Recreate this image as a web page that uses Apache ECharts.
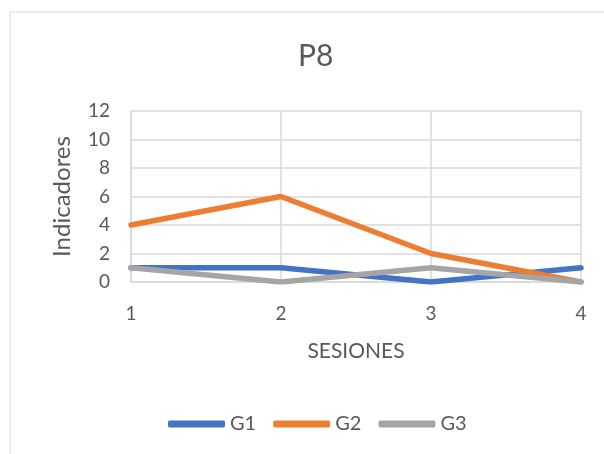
<!DOCTYPE html>
<html>
<head>
<meta charset="utf-8">
<script src="https://cdn.jsdelivr.net/npm/echarts@6/dist/echarts.min.js"></script>
<style>
  html, body { margin: 0; padding: 0; background: #fff; }
  #chart { width: 604px; height: 454px; }
</style>
</head>
<body>
<div id="chart"></div>
<script>
// Sessions on the x axis and indicator counts per group
const sessions = ['1', '2', '3', '4'];
const g1 = [1, 1, 0, 1];
const g2 = [4, 6, 2, 0];
const g3 = [1, 0, 1, 0];
const seriesNames = ['G1', 'G2', 'G3'];
const colors = ['#4472C4', '#ED7D31', '#A5A5A5'];

const font = 'Lato, "Liberation Sans", sans-serif';
const textColor = '#595959';
const gridColor = '#d9d9d9';

const chart = echarts.init(document.getElementById('chart'));

const makeSeries = (name, data, color) => ({
  name: name,
  type: 'line',
  data: data,
  symbol: 'none',
  lineStyle: { width: 5.5, color: color, cap: 'round', join: 'round' },
  itemStyle: { color: color }
});

chart.setOption({
  animation: false,
  backgroundColor: '#ffffff',
  graphic: [{
    type: 'rect',
    shape: { x: 10, y: 12, width: 640, height: 500 },
    style: { fill: 'none', stroke: gridColor, lineWidth: 1 },
    silent: true,
    z: -1
  }],
  title: {
    text: 'P8',
    left: 293,
    top: 36,
    textStyle: { fontFamily: font, fontSize: 30, fontWeight: 'normal', color: textColor }
  },
  grid: { left: 131, right: 23, top: 111, bottom: 172 },
  legend: {
    data: seriesNames,
    top: 409,
    left: 163,
    itemWidth: 57,
    itemHeight: 7,
    itemGap: 17,
    icon: 'roundRect',
    textStyle: { fontFamily: font, fontSize: 20, color: textColor }
  },
  xAxis: {
    type: 'category',
    data: sessions,
    boundaryGap: false,
    name: 'SESIONES',
    nameLocation: 'middle',
    nameGap: 59,
    nameTextStyle: { fontFamily: font, fontSize: 21, color: textColor },
    axisLine: { show: true, lineStyle: { color: gridColor, width: 1.5 } },
    axisTick: { show: false },
    axisLabel: { margin: 22, fontFamily: font, fontSize: 19, color: textColor },
    splitLine: { show: true, lineStyle: { color: gridColor, width: 1.5 } }
  },
  yAxis: {
    type: 'value',
    min: 0,
    max: 12,
    interval: 2,
    name: 'Indicadores',
    nameLocation: 'middle',
    nameGap: 57,
    nameRotate: 90,
    nameTextStyle: { fontFamily: font, fontSize: 24, color: textColor },
    axisLine: { show: true, lineStyle: { color: gridColor, width: 1.5 } },
    axisTick: { show: false },
    axisLabel: { margin: 21, fontFamily: font, fontSize: 19, color: textColor },
    splitLine: { show: true, lineStyle: { color: gridColor, width: 1.5 } }
  },
  series: [
    makeSeries(seriesNames[0], g1, colors[0]),
    makeSeries(seriesNames[1], g2, colors[1]),
    makeSeries(seriesNames[2], g3, colors[2])
  ]
});
</script>
</body>
</html>
